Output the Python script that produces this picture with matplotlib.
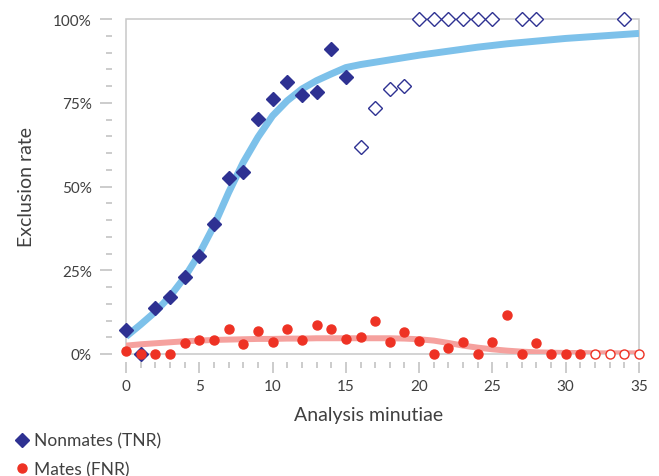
import matplotlib.pyplot as plt
from matplotlib.lines import Line2D
from matplotlib.patches import Rectangle
from matplotlib.ticker import MultipleLocator, FuncFormatter

plt.rcParams['font.family'] = ['Lato', 'DejaVu Sans']

# Nonmates (TNR): filled points, then points with few samples (open)
tnr_x = list(range(0, 16))
tnr = [7.1, 0.0, 13.7, 17.1, 22.9, 29.2, 38.8, 52.5, 54.3, 70.1, 76.1, 81.1, 77.2, 78.1, 91.0, 82.6]
tnr_open_x = [16, 17, 18, 19, 20, 21, 22, 23, 24, 25, 27, 28, 34]
tnr_open = [61.9, 73.5, 79.0, 80.1, 100, 100, 100, 100, 100, 100, 100, 100, 100]

# Mates (FNR)
fnr_x = list(range(0, 32))
fnr = [0.9, 0.0, 0.0, 0.0, 3.4, 4.3, 4.3, 7.4, 3.1, 6.9, 3.5, 7.4, 4.3, 8.7, 7.5, 4.6,
       5.1, 9.8, 3.7, 6.5, 4.0, 0.0, 1.7, 3.5, 0.0, 3.7, 11.7, 0.0, 3.3, 0.0, 0.0, 0.0]
fnr_open_x = [32, 33, 34, 35]
fnr_open = [0.0, 0.0, 0.0, 0.0]

# fitted trend curves
trend_x = list(range(0, 36))
tnr_trend = [5.2, 8.8, 12.6, 17.2, 22.9, 29.9, 38.3, 48.2, 57.2, 64.7, 71.1, 75.6, 79.1, 81.6,
             83.6, 85.5, 86.4, 87.1, 87.8, 88.5, 89.2, 89.8, 90.4, 91.0, 91.6, 92.1, 92.6,
             93.0, 93.4, 93.8, 94.2, 94.5, 94.8, 95.1, 95.4, 95.7]
fnr_trend = [2.5, 2.9, 3.2, 3.5, 3.8, 4.0, 4.2, 4.3, 4.4, 4.5, 4.5, 4.6, 4.6, 4.7, 4.7, 4.7,
             4.7, 4.7, 4.7, 4.6, 4.4, 4.0, 3.3, 2.5, 1.9, 1.4, 1.0, 0.7, 0.5, 0.4, 0.3, 0.3,
             0.2, 0.2, 0.2, 0.2]

navy = '#2E3192'
red = '#EE3224'
txt = '#404040'
grey = '#C8C8C8'

fig = plt.figure(figsize=(6.59, 4.77), dpi=100)
ax = fig.add_axes([126 / 659, 1 - 355 / 477, 513 / 659, 335 / 477])

ax.plot(trend_x, tnr_trend, color='#7DC1EA', lw=5, solid_capstyle='butt', zorder=2)
ax.plot(trend_x, fnr_trend, color='#F5A19E', lw=4.3, solid_capstyle='butt', zorder=2)

ax.plot(tnr_x, tnr, 'D', color=navy, ms=7, mec=navy, clip_on=False, zorder=3)
ax.plot(tnr_open_x, tnr_open, 'D', mfc='white', mec=navy, mew=1, ms=7, clip_on=False, zorder=3)
ax.plot(fnr_x, fnr, 'o', color=red, ms=6.5, clip_on=False, zorder=4)
ax.plot(fnr_open_x, fnr_open, 'o', mfc='white', mec=red, mew=1, ms=6.5, clip_on=False, zorder=4)

ax.set_xlim(0, 35)
ax.set_ylim(0, 100)

# plot frame drawn separately; tick spines are pushed outward
for s in ax.spines.values():
    s.set_color('none')
ax.spines['left'].set_position(('outward', 10))
ax.spines['bottom'].set_position(('outward', 5.8))
ax.add_patch(Rectangle((0, 0), 1, 1, transform=ax.transAxes, fill=False,
                       edgecolor=grey, lw=1.1, clip_on=False, zorder=1))

ax.xaxis.set_major_locator(MultipleLocator(5))
ax.xaxis.set_minor_locator(MultipleLocator(1))
ax.yaxis.set_major_locator(MultipleLocator(25))
ax.yaxis.set_minor_locator(MultipleLocator(5))
ax.yaxis.set_major_formatter(FuncFormatter(lambda v, p: f'{v:.0f}%'))

ax.tick_params(axis='both', which='both', direction='out', color='#BFBFBF', width=1.1,
               labelcolor=txt, labelsize=11)
ax.tick_params(axis='x', which='major', length=7.9, pad=4.5)
ax.tick_params(axis='x', which='minor', length=4.3)
ax.tick_params(axis='y', which='major', length=8.6, pad=6)
ax.tick_params(axis='y', which='minor', length=4.3)

ax.set_xlabel('Analysis minutiae', fontsize=14, color=txt)
ax.set_ylabel('Exclusion rate', fontsize=14, color=txt)
ax.xaxis.set_label_coords(0.472, -0.155)
ax.yaxis.set_label_coords(-0.177, 0.5)

handles = [
    Line2D([], [], marker='D', ls='none', color=navy, ms=7),
    Line2D([], [], marker='o', ls='none', color=red, ms=6.5),
]
fig.legend(handles, ['Nonmates (TNR)', 'Mates (FNR)'], loc='upper left',
           bbox_to_anchor=(5 / 659, 1 - 425 / 477), frameon=False, fontsize=12.5,
           labelcolor=txt, handlelength=1.0, handletextpad=0.15, borderpad=0,
           labelspacing=0.7)

fig.savefig('out.png', dpi=100)
